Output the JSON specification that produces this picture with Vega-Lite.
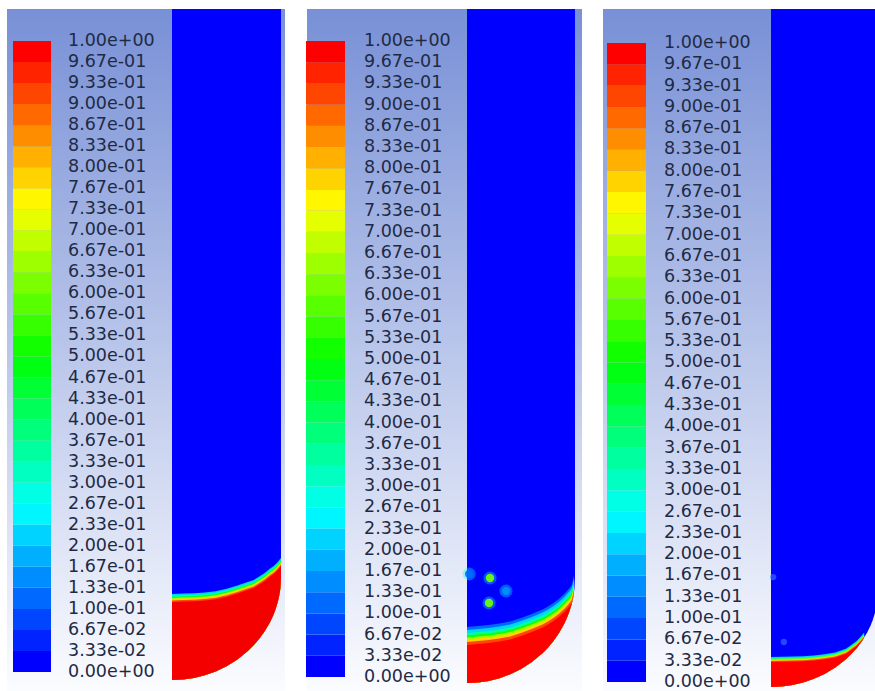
{
  "$schema": "https://vega.github.io/schema/vega-lite/v6.json",
  "padding": {"left": 7, "top": 9, "right": 0, "bottom": 0},
  "spacing": 21,
  "config": {
    "view": {"stroke": null},
    "legend": {
      "labelFont": "DejaVu Sans",
      "labelFontSize": 17.5,
      "labelColor": "#1e2a44",
      "labelOverlap": false,
      "labelBaseline": "middle",
      "labelLimit": 200,
      "padding": 0,
      "gradientStrokeWidth": 0
    }
  },
  "datasets": {
    "wall": [
      {"r": 0, "z": 0}, {"r": 0.1, "z": 0.005}, {"r": 0.2, "z": 0.021}, {"r": 0.3, "z": 0.048},
      {"r": 0.4, "z": 0.088}, {"r": 0.5, "z": 0.141}, {"r": 0.6, "z": 0.21}, {"r": 0.7, "z": 0.3},
      {"r": 0.75, "z": 0.356}, {"r": 0.8, "z": 0.42}, {"r": 0.85, "z": 0.497}, {"r": 0.9, "z": 0.592},
      {"r": 0.93, "z": 0.664}, {"r": 0.95, "z": 0.722}, {"r": 0.97, "z": 0.795}, {"r": 0.98, "z": 0.841},
      {"r": 0.99, "z": 0.902}, {"r": 0.995, "z": 0.945}, {"r": 1.0, "z": 1.05}
    ],
    "liq1": [
      {"r": 0, "wall": 0, "iface": 0.796}, {"r": 0.1, "wall": 0.005, "iface": 0.8}, {"r": 0.2, "wall": 0.021, "iface": 0.803},
      {"r": 0.3, "wall": 0.048, "iface": 0.812}, {"r": 0.4, "wall": 0.088, "iface": 0.825}, {"r": 0.5, "wall": 0.141, "iface": 0.85},
      {"r": 0.6, "wall": 0.21, "iface": 0.882}, {"r": 0.7, "wall": 0.3, "iface": 0.92}, {"r": 0.75, "wall": 0.356, "iface": 0.94},
      {"r": 0.8, "wall": 0.42, "iface": 0.975}, {"r": 0.85, "wall": 0.497, "iface": 1.01}, {"r": 0.9, "wall": 0.592, "iface": 1.055},
      {"r": 0.93, "wall": 0.664, "iface": 1.08}, {"r": 0.95, "wall": 0.722, "iface": 1.1}, {"r": 0.97, "wall": 0.795, "iface": 1.122},
      {"r": 0.98, "wall": 0.841, "iface": 1.135}, {"r": 0.99, "wall": 0.902, "iface": 1.15}, {"r": 0.995, "wall": 0.945, "iface": 1.157},
      {"r": 1.0, "wall": 1.05, "iface": 1.163}
    ],
    "liq2": [
      {"r": 0, "wall": 0, "iface": 0.38}, {"r": 0.1, "wall": 0.005, "iface": 0.39}, {"r": 0.2, "wall": 0.021, "iface": 0.4},
      {"r": 0.3, "wall": 0.048, "iface": 0.415}, {"r": 0.4, "wall": 0.088, "iface": 0.435}, {"r": 0.5, "wall": 0.141, "iface": 0.47},
      {"r": 0.6, "wall": 0.21, "iface": 0.51}, {"r": 0.7, "wall": 0.3, "iface": 0.555}, {"r": 0.75, "wall": 0.356, "iface": 0.585},
      {"r": 0.8, "wall": 0.42, "iface": 0.62}, {"r": 0.85, "wall": 0.497, "iface": 0.66}, {"r": 0.9, "wall": 0.592, "iface": 0.71},
      {"r": 0.93, "wall": 0.664, "iface": 0.745}, {"r": 0.95, "wall": 0.722, "iface": 0.77}, {"r": 0.97, "wall": 0.795, "iface": 0.8},
      {"r": 0.98, "wall": 0.841, "iface": 0.845}, {"r": 0.99, "wall": 0.902, "iface": 0.905}
    ],
    "liq3": [
      {"r": 0, "wall": 0, "iface": 0.27}, {"r": 0.1, "wall": 0.005, "iface": 0.272}, {"r": 0.2, "wall": 0.021, "iface": 0.275},
      {"r": 0.3, "wall": 0.048, "iface": 0.28}, {"r": 0.4, "wall": 0.088, "iface": 0.287}, {"r": 0.5, "wall": 0.141, "iface": 0.3},
      {"r": 0.6, "wall": 0.21, "iface": 0.32}, {"r": 0.7, "wall": 0.3, "iface": 0.36}, {"r": 0.75, "wall": 0.356, "iface": 0.4},
      {"r": 0.8, "wall": 0.42, "iface": 0.445}, {"r": 0.85, "wall": 0.497, "iface": 0.505}, {"r": 0.87, "wall": 0.532, "iface": 0.535}
    ],
    "bub2": [
      {"r": 0.213, "z": 1.05, "alpha": 0.6}, {"r": 0.204, "z": 0.8, "alpha": 0.6},
      {"r": 0.361, "z": 0.92, "alpha": 0.15}, {"r": 0.02, "z": 1.09, "alpha": 0.1}
    ],
    "bub3": [
      {"r": 0.02, "z": 1.19, "alpha": 0.08}, {"r": 0.12, "z": 0.487, "alpha": 0.08}
    ]
  },
  "resolve": {"scale": {"color": "independent"}, "legend": {"color": "independent"}},
  "hconcat": [
    {
      "width": 278, "height": 682,
      "layer": [
        {"data": {"values": [{}]}, "mark": {"type": "rect", "fill": {"gradient": "linear", "x1": 0, "y1": 0, "x2": 0, "y2": 1, "stops": [{"offset": 0, "color": "#7890d6"}, {"offset": 1, "color": "#fbfcff"}]}},
         "encoding": {"x": {"value": 0}, "x2": {"value": "width"}, "y": {"value": 0}, "y2": {"value": "height"}}},
        {"data": {"name": "wall"}, "mark": {"type": "area", "clip": true},
         "encoding": {
           "x": {"field": "r", "type": "quantitative", "scale": {"domain": [-1.5138, 1.0367], "nice": false, "zero": false}, "axis": null},
           "y": {"field": "z", "type": "quantitative", "scale": {"domain": [-0.1122, 6.847], "nice": false, "zero": false}, "axis": null},
           "y2": {"datum": 9},
           "color": {"datum": 0, "type": "quantitative",
             "scale": {"type": "quantize", "domain": [0, 1], "range": ["#0000ff","#0023ff","#0046ff","#0069ff","#008dff","#00b0ff","#00d3ff","#00f6ff","#00ffe5","#00ffc1","#00ff9e","#00ff7b","#00ff58","#00ff35","#00ff12","#12ff00","#35ff00","#58ff00","#7bff00","#9eff00","#c1ff00","#e5ff00","#fff600","#ffd300","#ffb000","#ff8d00","#ff6900","#ff4600","#ff2300","#ff0000"]},
             "legend": {"type": "gradient", "title": null, "orient": "none", "direction": "vertical", "legendX": 6, "legendY": 32, "gradientLength": 631, "gradientThickness": 38, "labelOffset": 17,
               "values": [0, 0.03334, 0.06667, 0.10001, 0.13334, 0.16667, 0.20001, 0.23334, 0.26667, 0.30001, 0.33334, 0.36667, 0.40001, 0.43334, 0.46667, 0.50001, 0.53334, 0.56667, 0.60001, 0.63334, 0.66667, 0.70001, 0.73334, 0.76667, 0.80001, 0.83334, 0.86667, 0.90001, 0.93334, 0.96667, 1],
               "labelExpr": "isFinite(datum.value) ? slice(format(datum.value,'.2e'),0,-1)+'0'+slice(format(datum.value,'.2e'),-1) : '0.00e+00'",
               "encode": {"labels": {"update": {"baseline": {"value": "middle"}}}}}}
         }},
        {"data": {"name": "liq1"}, "mark": {"type": "area", "yOffset": -8, "color": "#00d3ff"}, "encoding": {"x": {"field": "r", "type": "quantitative"}, "y": {"field": "iface", "type": "quantitative"}, "y2": {"field": "wall"}}},
        {"data": {"name": "liq1"}, "mark": {"type": "area", "yOffset": -6.5, "color": "#00ff9e"}, "encoding": {"x": {"field": "r", "type": "quantitative"}, "y": {"field": "iface", "type": "quantitative"}, "y2": {"field": "wall"}}},
        {"data": {"name": "liq1"}, "mark": {"type": "area", "yOffset": -5, "color": "#12ff00"}, "encoding": {"x": {"field": "r", "type": "quantitative"}, "y": {"field": "iface", "type": "quantitative"}, "y2": {"field": "wall"}}},
        {"data": {"name": "liq1"}, "mark": {"type": "area", "yOffset": -4, "color": "#9eff00"}, "encoding": {"x": {"field": "r", "type": "quantitative"}, "y": {"field": "iface", "type": "quantitative"}, "y2": {"field": "wall"}}},
        {"data": {"name": "liq1"}, "mark": {"type": "area", "yOffset": -3, "color": "#ffd300"}, "encoding": {"x": {"field": "r", "type": "quantitative"}, "y": {"field": "iface", "type": "quantitative"}, "y2": {"field": "wall"}}},
        {"data": {"name": "liq1"}, "mark": {"type": "area", "yOffset": -1.5, "color": "#ff4600"}, "encoding": {"x": {"field": "r", "type": "quantitative"}, "y": {"field": "iface", "type": "quantitative"}, "y2": {"field": "wall"}}},
        {"data": {"name": "liq1"}, "mark": {"type": "area", "color": "#f50000"}, "encoding": {"x": {"field": "r", "type": "quantitative"}, "y": {"field": "iface", "type": "quantitative"}, "y2": {"field": "wall"}}}
      ]
    },
    {
      "width": 275, "height": 682,
      "layer": [
        {"data": {"values": [{}]}, "mark": {"type": "rect", "fill": {"gradient": "linear", "x1": 0, "y1": 0, "x2": 0, "y2": 1, "stops": [{"offset": 0, "color": "#7890d6"}, {"offset": 1, "color": "#fbfcff"}]}},
         "encoding": {"x": {"value": 0}, "x2": {"value": "width"}, "y": {"value": 0}, "y2": {"value": "height"}}},
        {"data": {"name": "wall"}, "mark": {"type": "area", "clip": true},
         "encoding": {
           "x": {"field": "r", "type": "quantitative", "scale": {"domain": [-1.4815, 1.0648], "nice": false, "zero": false}, "axis": null},
           "y": {"field": "z", "type": "quantitative", "scale": {"domain": [-0.08, 6.74], "nice": false, "zero": false}, "axis": null},
           "y2": {"datum": 9},
           "color": {"datum": 0, "type": "quantitative", "title": null,
             "scale": {"type": "quantize", "domain": [0, 1], "range": ["#0000ff","#0023ff","#0046ff","#0069ff","#008dff","#00b0ff","#00d3ff","#00f6ff","#00ffe5","#00ffc1","#00ff9e","#00ff7b","#00ff58","#00ff35","#00ff12","#12ff00","#35ff00","#58ff00","#7bff00","#9eff00","#c1ff00","#e5ff00","#fff600","#ffd300","#ffb000","#ff8d00","#ff6900","#ff4600","#ff2300","#ff0000"]},
             "legend": {"type": "gradient", "title": null, "orient": "none", "direction": "vertical", "legendX": -1, "legendY": 32, "gradientLength": 636, "gradientThickness": 39, "labelOffset": 19,
               "values": [0, 0.03334, 0.06667, 0.10001, 0.13334, 0.16667, 0.20001, 0.23334, 0.26667, 0.30001, 0.33334, 0.36667, 0.40001, 0.43334, 0.46667, 0.50001, 0.53334, 0.56667, 0.60001, 0.63334, 0.66667, 0.70001, 0.73334, 0.76667, 0.80001, 0.83334, 0.86667, 0.90001, 0.93334, 0.96667, 1],
               "labelExpr": "isFinite(datum.value) ? slice(format(datum.value,'.2e'),0,-1)+'0'+slice(format(datum.value,'.2e'),-1) : '0.00e+00'",
               "encode": {"labels": {"update": {"baseline": {"value": "middle"}}}}}}
         }},
        {"data": {"name": "liq2"}, "mark": {"type": "area", "yOffset": -18, "color": "#0069ff"}, "encoding": {"x": {"field": "r", "type": "quantitative"}, "y": {"field": "iface", "type": "quantitative"}, "y2": {"field": "wall"}}},
        {"data": {"name": "liq2"}, "mark": {"type": "area", "yOffset": -15, "color": "#00d3ff"}, "encoding": {"x": {"field": "r", "type": "quantitative"}, "y": {"field": "iface", "type": "quantitative"}, "y2": {"field": "wall"}}},
        {"data": {"name": "liq2"}, "mark": {"type": "area", "yOffset": -12, "color": "#00ff9e"}, "encoding": {"x": {"field": "r", "type": "quantitative"}, "y": {"field": "iface", "type": "quantitative"}, "y2": {"field": "wall"}}},
        {"data": {"name": "liq2"}, "mark": {"type": "area", "yOffset": -9.5, "color": "#12ff00"}, "encoding": {"x": {"field": "r", "type": "quantitative"}, "y": {"field": "iface", "type": "quantitative"}, "y2": {"field": "wall"}}},
        {"data": {"name": "liq2"}, "mark": {"type": "area", "yOffset": -7.5, "color": "#9eff00"}, "encoding": {"x": {"field": "r", "type": "quantitative"}, "y": {"field": "iface", "type": "quantitative"}, "y2": {"field": "wall"}}},
        {"data": {"name": "liq2"}, "mark": {"type": "area", "yOffset": -5.5, "color": "#ffd300"}, "encoding": {"x": {"field": "r", "type": "quantitative"}, "y": {"field": "iface", "type": "quantitative"}, "y2": {"field": "wall"}}},
        {"data": {"name": "liq2"}, "mark": {"type": "area", "yOffset": -3, "color": "#ff4600"}, "encoding": {"x": {"field": "r", "type": "quantitative"}, "y": {"field": "iface", "type": "quantitative"}, "y2": {"field": "wall"}}},
        {"data": {"name": "liq2"}, "mark": {"type": "area", "color": "#ff0000"}, "encoding": {"x": {"field": "r", "type": "quantitative"}, "y": {"field": "iface", "type": "quantitative"}, "y2": {"field": "wall"}}},
        {"data": {"name": "bub2"}, "mark": {"type": "point", "filled": true, "size": 170, "opacity": 0.35, "color": "#00ffe5"}, "encoding": {"x": {"field": "r", "type": "quantitative"}, "y": {"field": "z", "type": "quantitative"}}},
        {"data": {"name": "bub2"}, "mark": {"type": "point", "filled": true, "size": 70, "opacity": 0.9},
         "encoding": {"x": {"field": "r", "type": "quantitative"}, "y": {"field": "z", "type": "quantitative"},
           "color": {"field": "alpha", "type": "quantitative", "title": null,
             "scale": {"type": "quantize", "domain": [0, 1], "range": ["#0000ff","#0023ff","#0046ff","#0069ff","#008dff","#00b0ff","#00d3ff","#00f6ff","#00ffe5","#00ffc1","#00ff9e","#00ff7b","#00ff58","#00ff35","#00ff12","#12ff00","#35ff00","#58ff00","#7bff00","#9eff00","#c1ff00","#e5ff00","#fff600","#ffd300","#ffb000","#ff8d00","#ff6900","#ff4600","#ff2300","#ff0000"]}}}}
      ]
    },
    {
      "width": 273, "height": 682,
      "layer": [
        {"data": {"values": [{}]}, "mark": {"type": "rect", "fill": {"gradient": "linear", "x1": 0, "y1": 0, "x2": 0, "y2": 1, "stops": [{"offset": 0, "color": "#7890d6"}, {"offset": 1, "color": "#fbfcff"}]}},
         "encoding": {"x": {"value": 0}, "x2": {"value": "width"}, "y": {"value": 0}, "y2": {"value": "height"}}},
        {"data": {"name": "wall"}, "mark": {"type": "area", "clip": true},
         "encoding": {
           "x": {"field": "r", "type": "quantitative", "scale": {"domain": [-1.5701, 0.9813], "nice": false, "zero": false}, "axis": null},
           "y": {"field": "z", "type": "quantitative", "scale": {"domain": [-0.0433, 7.338], "nice": false, "zero": false}, "axis": null},
           "y2": {"datum": 9},
           "color": {"datum": 0, "type": "quantitative",
             "scale": {"type": "quantize", "domain": [0, 1], "range": ["#0000ff","#0023ff","#0046ff","#0069ff","#008dff","#00b0ff","#00d3ff","#00f6ff","#00ffe5","#00ffc1","#00ff9e","#00ff7b","#00ff58","#00ff35","#00ff12","#12ff00","#35ff00","#58ff00","#7bff00","#9eff00","#c1ff00","#e5ff00","#fff600","#ffd300","#ffb000","#ff8d00","#ff6900","#ff4600","#ff2300","#ff0000"]},
             "legend": {"type": "gradient", "title": null, "orient": "none", "direction": "vertical", "legendX": 4, "legendY": 34, "gradientLength": 639, "gradientThickness": 39, "labelOffset": 18,
               "values": [0, 0.03334, 0.06667, 0.10001, 0.13334, 0.16667, 0.20001, 0.23334, 0.26667, 0.30001, 0.33334, 0.36667, 0.40001, 0.43334, 0.46667, 0.50001, 0.53334, 0.56667, 0.60001, 0.63334, 0.66667, 0.70001, 0.73334, 0.76667, 0.80001, 0.83334, 0.86667, 0.90001, 0.93334, 0.96667, 1],
               "labelExpr": "isFinite(datum.value) ? slice(format(datum.value,'.2e'),0,-1)+'0'+slice(format(datum.value,'.2e'),-1) : '0.00e+00'",
               "encode": {"labels": {"update": {"baseline": {"value": "middle"}}}}}}
         }},
        {"data": {"name": "liq3"}, "mark": {"type": "area", "yOffset": -5, "clip": true, "color": "#00d3ff"}, "encoding": {"x": {"field": "r", "type": "quantitative"}, "y": {"field": "iface", "type": "quantitative"}, "y2": {"field": "wall"}}},
        {"data": {"name": "liq3"}, "mark": {"type": "area", "yOffset": -4, "clip": true, "color": "#00ff7b"}, "encoding": {"x": {"field": "r", "type": "quantitative"}, "y": {"field": "iface", "type": "quantitative"}, "y2": {"field": "wall"}}},
        {"data": {"name": "liq3"}, "mark": {"type": "area", "yOffset": -3, "clip": true, "color": "#7bff00"}, "encoding": {"x": {"field": "r", "type": "quantitative"}, "y": {"field": "iface", "type": "quantitative"}, "y2": {"field": "wall"}}},
        {"data": {"name": "liq3"}, "mark": {"type": "area", "yOffset": -2, "clip": true, "color": "#ffd300"}, "encoding": {"x": {"field": "r", "type": "quantitative"}, "y": {"field": "iface", "type": "quantitative"}, "y2": {"field": "wall"}}},
        {"data": {"name": "liq3"}, "mark": {"type": "area", "yOffset": -1, "clip": true, "color": "#ff4600"}, "encoding": {"x": {"field": "r", "type": "quantitative"}, "y": {"field": "iface", "type": "quantitative"}, "y2": {"field": "wall"}}},
        {"data": {"name": "liq3"}, "mark": {"type": "area", "clip": true, "color": "#ff0000"}, "encoding": {"x": {"field": "r", "type": "quantitative"}, "y": {"field": "iface", "type": "quantitative"}, "y2": {"field": "wall"}}},
        {"data": {"name": "bub3"}, "mark": {"type": "point", "filled": true, "size": 40, "opacity": 0.6, "color": "#3a78ff"}, "encoding": {"x": {"field": "r", "type": "quantitative"}, "y": {"field": "z", "type": "quantitative"}}}
      ]
    }
  ]
}
